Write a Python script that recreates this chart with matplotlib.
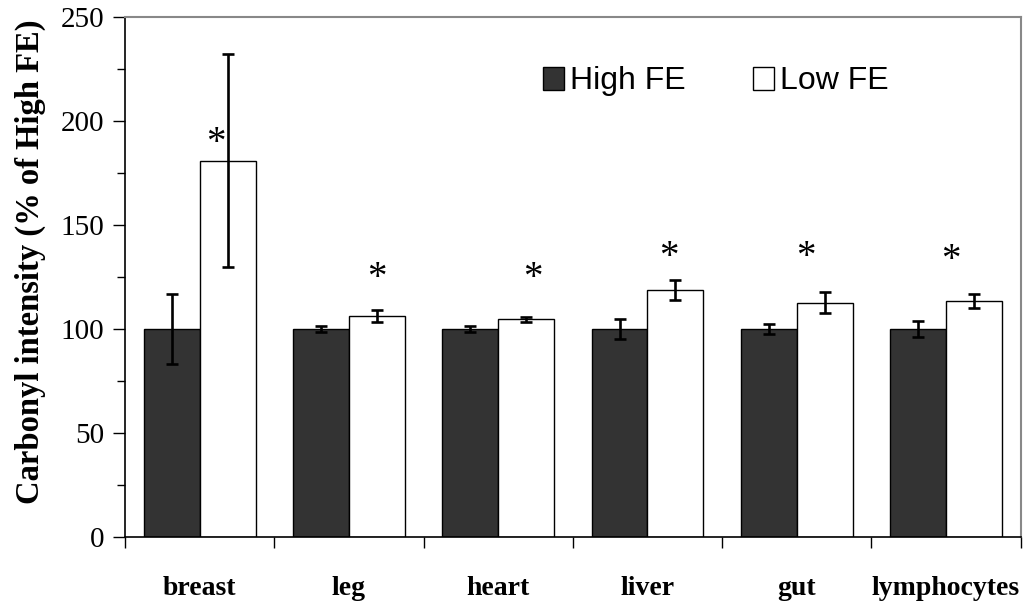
import numpy as np
import matplotlib.pyplot as plt
from matplotlib.patches import Patch

# Data
tissues = ["breast", "leg", "heart", "liver", "gut", "lymphocytes"]
high_fe = [100, 100, 100, 100, 100, 100]
high_err = [17, 1.5, 1.5, 5, 2.6, 4]
low_fe = [181, 106.3, 104.8, 118.9, 112.6, 113.3]
low_err = [51, 2.7, 1.2, 4.8, 5, 3.4]
star_y = [194, 129.3, 129.3, 139, 139, 137.6]
star_dx = [0.11, 0.19, 0.23, 0.14, 0.06, 0.03]

serif = "Liberation Serif"
sans = "Liberation Sans"

fig = plt.figure(figsize=(10.24, 6.07), dpi=100)
ax = fig.add_axes([125 / 1024, 70 / 607, 895.7 / 1024, 520 / 607])

x = np.arange(len(tissues))
w = 0.375
err_kw = dict(ecolor="black", elinewidth=1.9, capsize=4, capthick=1.9)

ax.bar(x - w / 2, high_fe, w, yerr=high_err, color="#333333",
       edgecolor="black", linewidth=1.0, error_kw=err_kw, label="High FE")
ax.bar(x + w / 2, low_fe, w, yerr=low_err, color="white",
       edgecolor="black", linewidth=1.0, error_kw=err_kw, label="Low FE")

# significance markers
for i in range(len(tissues)):
    ax.annotate("*", (x[i] + star_dx[i], star_y[i]), xytext=(0, -14),
                textcoords="offset points", ha="center", va="baseline",
                fontsize=28, family=serif)

ax.set_xlim(-0.5, len(tissues) - 0.5)
ax.set_ylim(0, 250)

# x ticks at category borders, labels at centres
ax.set_xticks(np.arange(-0.5, len(tissues), 1.0))
ax.set_xticklabels([])
ax.set_xticks(x, minor=True)
ax.set_xticklabels(tissues, minor=True, fontsize=20, fontweight="bold",
                   family=serif)
ax.tick_params(axis="x", which="major", direction="out", length=8,
               width=1.0)
ax.tick_params(axis="x", which="minor", length=0, pad=28)

ax.set_yticks(np.arange(0, 251, 50))
ax.set_yticks(np.arange(25, 250, 50), minor=True)
ax.tick_params(axis="y", which="major", direction="out", length=9,
               width=1.0, labelsize=21, pad=6)
ax.tick_params(axis="y", which="minor", direction="out", length=6,
               width=1.0)
for lbl in ax.get_yticklabels():
    lbl.set_family(serif)

ax.set_ylabel("Carbonyl intensity (% of High FE)", fontsize=23.5,
              fontweight="bold", family=serif)
ax.yaxis.set_label_coords(-0.088, 0.529)

ax.spines["left"].set_color("black")
ax.spines["bottom"].set_color("black")
ax.spines["left"].set_linewidth(1.2)
ax.spines["bottom"].set_linewidth(1.2)
ax.spines["top"].set_color("#888888")
ax.spines["right"].set_color("#888888")
ax.spines["top"].set_linewidth(1.5)
ax.spines["right"].set_linewidth(1.5)

handles = [Patch(facecolor="#333333", edgecolor="black", label="High FE"),
           Patch(facecolor="white", edgecolor="black", label="Low FE")]
ax.legend(handles=handles, loc="upper left", bbox_to_anchor=(0.467, 0.905),
          ncol=2, frameon=False, borderpad=0, borderaxespad=0,
          handlelength=0.65, handleheight=0.72, handletextpad=0.2,
          columnspacing=2.1, prop={"family": sans, "size": 23})

fig.savefig("out.png", dpi=100)
